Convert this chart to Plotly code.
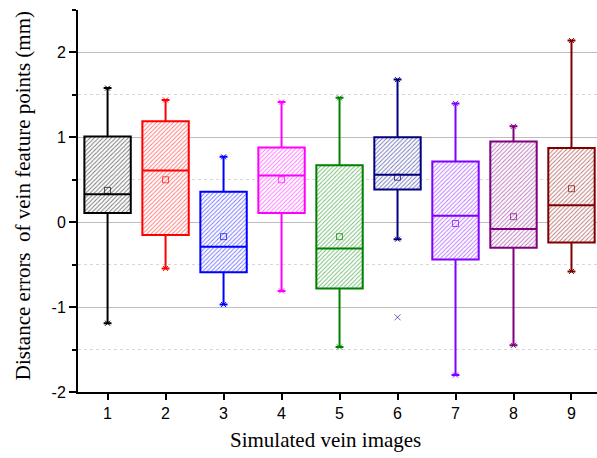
import plotly.graph_objects as go

categories = [1, 2, 3, 4, 5, 6, 7, 8, 9]
colors = ["#000000", "#FF0000", "#0000FF", "#FF00FF", "#008000",
          "#000080", "#8000FF", "#800080", "#800000"]
q1 = [0.11, -0.15, -0.59, 0.11, -0.78, 0.385, -0.44, -0.30, -0.24]
median = [0.33, 0.61, -0.29, 0.55, -0.31, 0.56, 0.075, -0.08, 0.20]
q3 = [1.01, 1.19, 0.36, 0.88, 0.67, 1.00, 0.715, 0.95, 0.875]
lower = [-1.19, -0.545, -0.97, -0.81, -1.47, -0.20, -1.80, -1.45, -0.58]
upper = [1.58, 1.44, 0.77, 1.415, 1.465, 1.68, 1.40, 1.13, 2.14]
mean = [0.375, 0.50, -0.17, 0.50, -0.17, 0.53, -0.015, 0.065, 0.395]
outlier_x = [6]
outlier_y = [-1.12]
ytick_vals = [-2, -1, 0, 1, 2]
ytick_text = ["-2", "-1", "0", "1", "2"]

fig = go.Figure()

# hatched box fills
fig.add_trace(go.Bar(
    x=categories,
    y=[b - a for a, b in zip(q1, q3)],
    base=q1,
    width=0.8,
    marker=dict(
        color="white",
        line=dict(width=0),
        pattern=dict(shape="/", fgcolor=colors, fgopacity=0.55,
                     bgcolor="white", size=3, solidity=0.3),
    ),
    hoverinfo="skip",
    showlegend=False,
))

for i, c in enumerate(categories):
    fig.add_trace(go.Box(
        x=[c], q1=[q1[i]], median=[median[i]], q3=[q3[i]],
        lowerfence=[lower[i]], upperfence=[upper[i]],
        width=0.8, whiskerwidth=0.17,
        line=dict(color=colors[i], width=2),
        fillcolor="rgba(0,0,0,0)",
        boxpoints=False,
        showlegend=False,
    ))

# min/max markers
for i, c in enumerate(categories):
    fig.add_trace(go.Scatter(
        x=[c, c], y=[lower[i], upper[i]], mode="markers",
        marker=dict(symbol="x-thin-open", size=5, color=colors[i],
                    line=dict(width=1, color=colors[i])),
        showlegend=False, hoverinfo="skip",
    ))

# means
fig.add_trace(go.Scatter(
    x=categories, y=mean, mode="markers",
    marker=dict(symbol="square-open", size=6, color=colors,
                line=dict(width=1), opacity=0.7),
    showlegend=False,
))

# outlier
fig.add_trace(go.Scatter(
    x=outlier_x, y=outlier_y, mode="markers",
    marker=dict(symbol="x-thin-open", size=6, color=colors[5],
                line=dict(width=1, color=colors[5]), opacity=0.6),
    showlegend=False,
))

fig.update_layout(
    width=597, height=458,
    margin=dict(l=78, r=0, t=10, b=66),
    paper_bgcolor="white", plot_bgcolor="white",
    font=dict(family="Liberation Sans, Arial", size=16, color="black"),
    barmode="overlay", boxmode="overlay",
    xaxis=dict(
        range=[0.49, 9.44],
        tickvals=categories,
        ticktext=[str(c) for c in categories],
        ticks="outside", ticklen=6, tickwidth=2, tickcolor="black",
        showline=True, linecolor="black", linewidth=2,
        showgrid=False, zeroline=False,
    ),
    yaxis=dict(
        range=[-2, 2.5],
        tickvals=ytick_vals, ticktext=ytick_text,
        ticks="outside", ticklen=7, tickwidth=2, tickcolor="black",
        showline=True, linecolor="black", linewidth=2,
        showgrid=True, gridcolor="#bdbdbd", gridwidth=1,
        zeroline=False,
        minor=dict(dtick=0.5, tick0=0, ticks="outside", ticklen=4,
                   tickwidth=2, tickcolor="black", showgrid=True,
                   gridcolor="#d8d8d8", griddash="dot", gridwidth=1),
    ),
    annotations=[
        dict(text="Simulated vein images", xref="paper", yref="paper",
             x=(325 - 78) / 519, y=-(440 - 391.7) / 381.7,
             xanchor="center", yanchor="middle", showarrow=False,
             font=dict(family="Liberation Serif, Times New Roman", size=21, color="black")),
        dict(text="Distance errors  of vein feature points (mm)", xref="paper", yref="paper",
             x=-(78 - 23) / 519, y=(391.7 - 196) / 381.7, textangle=-90,
             xanchor="center", yanchor="middle", showarrow=False,
             font=dict(family="Liberation Serif, Times New Roman", size=21, color="black")),
    ],
)

fig.write_html("out.html")
